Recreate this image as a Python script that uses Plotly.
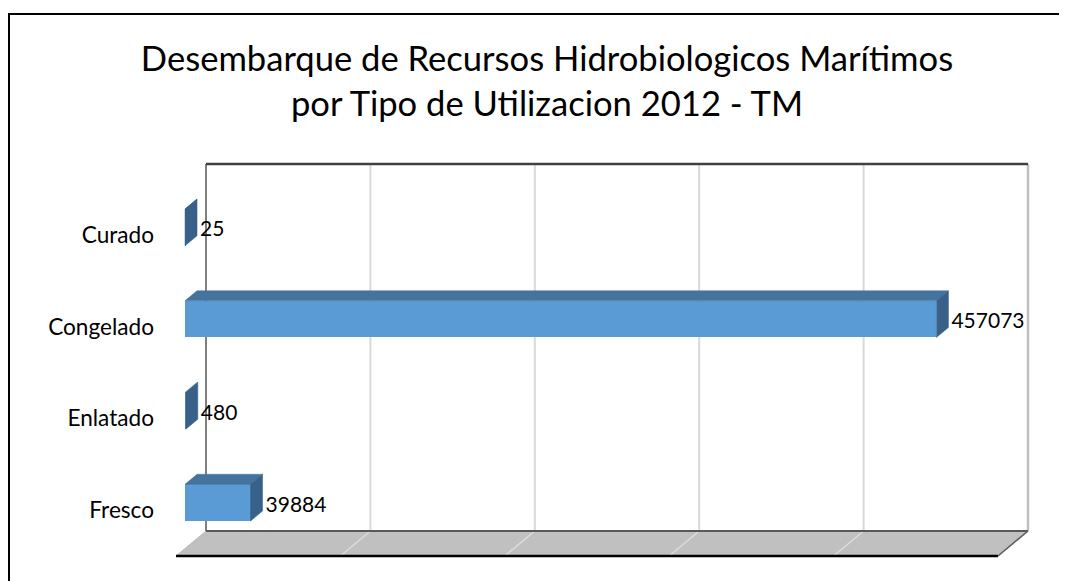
import plotly.graph_objects as go

# ---- data ----
categories = ["Curado", "Congelado", "Enlatado", "Fresco"]
values = [25, 457073, 480, 39884]
axis_max = 500000
grid_step = 100000
title_lines = ["Desembarque de Recursos Hidrobiologicos Marítimos",
               "por Tipo de Utilizacion 2012 - TM"]

# ---- style / layout constants ----
OFF = 8                      # page body margin of the html page
W, H = 1067 - OFF, 581 - OFF
FONT = "Lato"
DX = 18250          # depth offset along value axis (value units) for full depth
DY = 0.2724         # depth offset along category axis (category units)
BAR_H = 0.40
D_FRONT, D_BACK = 0.7, 0.3
PL, PR, PT, PB = 171 - OFF, 1033 - OFF, 159 - OFF, 561 - OFF   # plot area in pixels
PAD = 5

n = len(categories)
pos = [n - 1 - i for i in range(n)]   # top to bottom

x_lo, x_hi = -DX, axis_max
ux = (x_hi - x_lo) / (PR - PL - 2 * PAD)
y_lo, y_hi = -0.5 - DY, n - 0.5
uy = (y_hi - y_lo) / (PB - PT - 2 * PAD)
xr = [x_lo - PAD * ux, x_hi + PAD * ux]
yr = [y_lo - PAD * uy, y_hi + PAD * uy]


def proj(v, c, d):
    return v - d * DX, c - d * DY


fig = go.Figure()

# floor (below all traces)
fpts = [proj(v, -0.5, d) for v, d in [(0, 0), (axis_max, 0), (axis_max, 1), (0, 1)]]
path = "M " + " L ".join(f"{a},{b}" for a, b in fpts) + " Z"
fig.add_shape(type="path", path=path, xref="x", yref="y", layer="below",
              fillcolor="#C0C0C0", line=dict(width=0))


def seg(v0, c0, d0, v1, c1, d1, color, width):
    x0, y0 = proj(v0, c0, d0)
    x1, y1 = proj(v1, c1, d1)
    fig.add_shape(type="line", xref="x", yref="y", layer="below",
                  x0=x0, y0=y0, x1=x1, y1=y1,
                  line=dict(color=color, width=width))


ticks = list(range(grid_step, axis_max, grid_step))
for t in ticks:
    seg(t, -0.5, 0, t, n - 0.5, 0, "#D9D9D9", 2)      # back wall grid
    seg(t, -0.5, 0, t, -0.5, 1, "#DCDCDC", 1.5)       # floor grid

# wall / floor edges
seg(axis_max, -0.5, 0, axis_max, n - 0.5, 0, "#BFBFBF", 2.5)
seg(0, -0.5, 0, 0, n - 0.5, 0, "#7F7F7F", 2)
seg(0, n - 0.5, 0, axis_max, n - 0.5, 0, "#404040", 2.5)
seg(0, -0.5, 0, axis_max, -0.5, 0, "#595959", 2)
seg(0, -0.5, 0, 0, -0.5, 1, "#BDBDBD", 1)
seg(axis_max, -0.5, 0, axis_max, -0.5, 1, "#595959", 1.5)
seg(0, -0.5, 1, axis_max, -0.5, 1, "#000000", 2.5)

# bars: side and top faces
top_x, top_y, side_x, side_y = [], [], [], []
for v, c in zip(values, pos):
    t, b = c + BAR_H / 2, c - BAR_H / 2
    for (vv, cc, dd) in [(0, t, D_FRONT), (v, t, D_FRONT), (v, t, D_BACK), (0, t, D_BACK), (0, t, D_FRONT)]:
        a, bb = proj(vv, cc, dd); top_x.append(a); top_y.append(bb)
    top_x.append(None); top_y.append(None)
    for (vv, cc, dd) in [(v, b, D_FRONT), (v, t, D_FRONT), (v, t, D_BACK), (v, b, D_BACK), (v, b, D_FRONT)]:
        a, bb = proj(vv, cc, dd); side_x.append(a); side_y.append(bb)
    side_x.append(None); side_y.append(None)

# bars: front faces
fig.add_trace(go.Bar(
    orientation="h",
    x=values,
    y=[c - D_FRONT * DY for c in pos],
    base=-D_FRONT * DX,
    width=BAR_H,
    marker=dict(color="#5B9BD5", line=dict(width=0)),
    showlegend=False, hoverinfo="skip",
))

fig.add_trace(go.Scatter(x=top_x, y=top_y, fill="toself", fillcolor="#44739E",
                         mode="lines", line=dict(width=0.5, color="#44739E"),
                         hoverinfo="skip", showlegend=False))
fig.add_trace(go.Scatter(x=side_x, y=side_y, fill="toself", fillcolor="#386089",
                         mode="lines", line=dict(width=0.5, color="#386089"),
                         hoverinfo="skip", showlegend=False))

# data labels
fig.add_trace(go.Scatter(
    x=[v - D_BACK * DX + 3 * ux for v in values],
    y=[c - D_FRONT * DY - 0.04 for c in pos],
    mode="text",
    text=[str(v) for v in values],
    textposition="middle right",
    textfont=dict(family=FONT, size=21, color="#000000"),
    cliponaxis=False, hoverinfo="skip", showlegend=False,
))


def paper_x(px_):
    return (px_ - PL) / (PR - PL)


def paper_y(py_):
    return (PB - py_) / (PB - PT)


# outer chart border
fig.add_shape(type="rect", xref="paper", yref="paper",
              x0=paper_x(9 - OFF), x1=paper_x(W + 10), y0=paper_y(H + 10), y1=paper_y(14 - OFF),
              line=dict(color="#000000", width=2), fillcolor="rgba(0,0,0,0)")

fig.update_layout(
    width=W, height=H,
    margin=dict(l=PL, r=W - PR, t=PT, b=H - PB, pad=0),
    paper_bgcolor="white", plot_bgcolor="white",
    bargap=0,
    title=dict(text="<br>".join(title_lines), xref="container", x=(547 - OFF) / W,
               xanchor="center", yref="container", y=1 - (71 - OFF) / H, yanchor="middle",
               font=dict(family=FONT, size=34.6, color="#000000")),
    xaxis=dict(range=xr, visible=False, fixedrange=True),
    yaxis=dict(range=yr, showgrid=False, zeroline=False, showline=False,
               tickvals=[c - DY for c in pos], ticktext=categories,
               ticks="", ticklabelstandoff=16,
               tickfont=dict(family=FONT, size=22.6, color="#000000"),
               fixedrange=True),
    font=dict(family=FONT),
)

fig.write_html("out.html")
